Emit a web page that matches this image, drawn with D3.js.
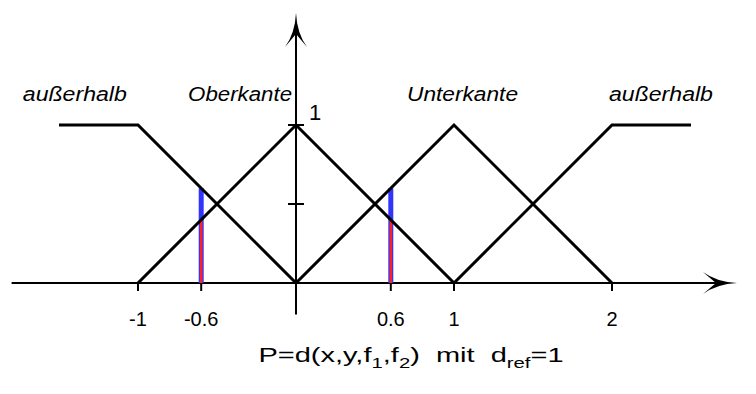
<!DOCTYPE html>
<html>
<head>
<meta charset="utf-8">
<script src="https://cdn.jsdelivr.net/npm/d3@7"></script>
<style>
  body { margin: 0; background: #fff; }
  text { font-family: "Liberation Sans", Arial, sans-serif; fill: #000; }
</style>
</head>
<body>
<div id="chart"></div>
<script>
// membership functions (x in d_ref units, y = degree)
const categories = ["außerhalb", "Oberkante", "Unterkante", "außerhalb"];
const seriesX = [[-1.5, -1, 0], [-1, 0, 1], [0, 1, 2], [1, 2, 2.5]];
const seriesY = [[1, 1, 0], [0, 1, 0], [0, 1, 0], [0, 1, 1]];

const xTicks = [-1, -0.6, 0.6, 1, 2];
const xTickLabels = ["-1", "-0.6", "0.6", "1", "2"];
const yTicks = [0.5, 1];
const yTickLabels = ["", "1"];

// sample points and their two degrees of membership
const markerX = [-0.6, 0.6];
const markerLow = [0.4, 0.4];
const markerHigh = [0.6, 0.6];

const width = 756, height = 394;

const svg = d3.select("#chart")
    .append("svg")
    .attr("width", width)
    .attr("height", height);

var x = d3.scaleLinear().domain([-1, 2]).range([138, 612]);
var y = d3.scaleLinear().domain([0, 1]).range([283, 125]);

// label placement (layout, in data units)
const labelPos = [-1.40, -0.354, 1.054, 2.31];
const labelWidth = [104, 104, 111, 104];

// axes
svg.append("line")
    .attr("x1", x(-1.8)).attr("x2", x(2.7))
    .attr("y1", y(0)).attr("y2", y(0))
    .style("stroke", "black").style("stroke-width", 2);
svg.append("line")
    .attr("x1", x(0)).attr("x2", x(0))
    .attr("y1", y(-0.2)).attr("y2", y(1.6))
    .style("stroke", "black").style("stroke-width", 2);

// curved arrow heads
function arrow(tx, ty, dir) {
    var L = 34, w = 11;
    var p;
    if (dir === "up") {
        p = "M" + tx + "," + ty
          + "Q" + (tx - 1) + "," + (ty + L * 0.6) + " " + (tx - w) + "," + (ty + L)
          + "L" + tx + "," + (ty + L * 0.62)
          + "L" + (tx + w) + "," + (ty + L)
          + "Q" + (tx + 1) + "," + (ty + L * 0.6) + " " + tx + "," + ty + "Z";
    } else {
        p = "M" + tx + "," + ty
          + "Q" + (tx - L * 0.6) + "," + (ty - 1) + " " + (tx - L) + "," + (ty - w)
          + "L" + (tx - L * 0.62) + "," + ty
          + "L" + (tx - L) + "," + (ty + w)
          + "Q" + (tx - L * 0.6) + "," + (ty + 1) + " " + tx + "," + ty + "Z";
    }
    svg.append("path").attr("d", p).style("fill", "black");
}
arrow(x(0), 13, "up");
arrow(737, y(0), "right");

// x ticks
svg.append("g")
    .selectAll("line")
    .data(xTicks)
    .enter()
    .append("line")
    .attr("x1", d => x(d)).attr("x2", d => x(d))
    .attr("y1", y(0)).attr("y2", y(0) + 8)
    .style("stroke", "black").style("stroke-width", 2);

svg.append("g")
    .selectAll("text")
    .data(xTicks)
    .enter()
    .append("text")
    .attr("x", d => x(d))
    .attr("y", 326)
    .attr("text-anchor", "middle")
    .style("font-size", "20px")
    .text((d, i) => xTickLabels[i]);

// y ticks
svg.append("g")
    .selectAll("line")
    .data(yTicks)
    .enter()
    .append("line")
    .attr("x1", x(0) - 8).attr("x2", x(0) + 8)
    .attr("y1", d => y(d)).attr("y2", d => y(d))
    .style("stroke", "black").style("stroke-width", 2);

svg.append("g")
    .selectAll("text")
    .data(yTicks)
    .enter()
    .append("text")
    .attr("x", x(0) + 13)
    .attr("y", d => y(d) - 5)
    .style("font-size", "22px")
    .text((d, i) => yTickLabels[i]);

// marker bars: blue up to the higher degree, red up to the lower one
svg.append("g")
    .selectAll("line")
    .data(markerX)
    .enter()
    .append("line")
    .attr("x1", d => x(d)).attr("x2", d => x(d))
    .attr("y1", y(0)).attr("y2", (d, i) => y(markerHigh[i]))
    .style("stroke", "#3333ff").style("stroke-width", 5);
svg.append("g")
    .selectAll("line")
    .data(markerX)
    .enter()
    .append("line")
    .attr("x1", d => x(d)).attr("x2", d => x(d))
    .attr("y1", y(0)).attr("y2", (d, i) => y(markerLow[i]))
    .style("stroke", "#ff2222").style("stroke-width", 2.5);

// membership functions
var line = d3.line().x(d => x(d[0])).y(d => y(d[1]));
svg.append("g")
    .selectAll("path")
    .data(seriesX)
    .enter()
    .append("path")
    .attr("d", (d, i) => line(d.map((v, j) => [v, seriesY[i][j]])))
    .style("fill", "none")
    .style("stroke", "black")
    .style("stroke-width", 3)
    .style("stroke-linejoin", "miter");

// category labels
svg.append("g")
    .selectAll("text")
    .data(categories)
    .enter()
    .append("text")
    .attr("x", (d, i) => x(labelPos[i]))
    .attr("y", 101)
    .attr("text-anchor", "middle")
    .attr("textLength", (d, i) => labelWidth[i])
    .attr("lengthAdjust", "spacingAndGlyphs")
    .style("font-size", "20px")
    .style("font-style", "italic")
    .text(d => d);

// caption, widened like the reference
var cap = svg.append("text")
    .attr("transform", "translate(411,362) scale(1.45,1)")
    .attr("text-anchor", "middle")
    .style("font-size", "20px")
    .attr("xml:space", "preserve");
cap.append("tspan").text("P=d(x,y,f");
cap.append("tspan").attr("dy", 6).style("font-size", "14px").text("1");
cap.append("tspan").attr("dy", -6).text(",f");
cap.append("tspan").attr("dy", 6).style("font-size", "14px").text("2");
cap.append("tspan").attr("dy", -6).text(")  mit  d");
cap.append("tspan").attr("dy", 6).style("font-size", "14px").text("ref");
cap.append("tspan").attr("dy", -6).text("=1");
</script>
</body>
</html>
